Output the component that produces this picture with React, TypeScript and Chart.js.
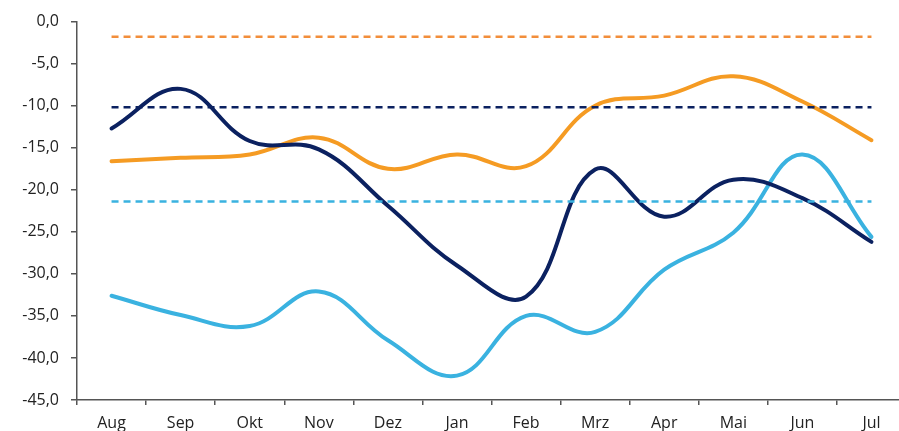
import React, { useEffect, useRef } from "react";
import { Chart, registerables } from "chart.js";

Chart.register(...registerables);

const categories = ["Aug", "Sep", "Okt", "Nov", "Dez", "Jan", "Feb", "Mrz", "Apr", "Mai", "Jun", "Jul"];
const navySeries = [-12.7, -8.0, -14.2, -15.2, -21.9, -29.0, -32.7, -17.6, -23.2, -18.8, -21.0, -26.2];
const orangeSeries = [-16.6, -16.2, -15.8, -13.8, -17.5, -15.8, -17.2, -10.0, -8.8, -6.5, -9.5, -14.1];
const lightBlueSeries = [-32.6, -34.9, -36.2, -32.1, -37.9, -42.1, -35.0, -36.9, -29.5, -25.1, -15.8, -25.6];
const orangeAverage = -1.8;
const navyAverage = -10.2;
const lightBlueAverage = -21.4;

const NAVY = "#0B2160";
const ORANGE = "#F59B23";
const ORANGE_DASH = "#F28E3B";
const LIGHT_BLUE = "#3AB2E0";

const CANVAS_W = 910;
const CANVAS_H = 431;

export default function App() {
  const ref = useRef<HTMLCanvasElement>(null);
  useEffect(() => {
    const ctx = ref.current!;
    const flat = (v: number) => categories.map(() => v);
    const dashed = (label: string, v: number, color: string) => ({
      label,
      data: flat(v),
      borderColor: color,
      borderWidth: 2.5,
      borderDash: [7, 5],
      pointRadius: 0,
      tension: 0,
      fill: false,
    });
    const solid = (label: string, data: number[], color: string) => ({
      label,
      data,
      borderColor: color,
      borderWidth: 4,
      pointRadius: 0,
      tension: 0.4,
      fill: false,
      borderCapStyle: "round" as const,
    });
    const font = { family: "'Open Sans', sans-serif", size: 16 };
    const chart = new Chart(ctx, {
      type: "line",
      data: {
        labels: categories,
        datasets: [
          dashed("orange avg", orangeAverage, ORANGE_DASH),
          dashed("navy avg", navyAverage, NAVY),
          dashed("light blue avg", lightBlueAverage, LIGHT_BLUE),
          solid("navy", navySeries, NAVY),
          solid("orange", orangeSeries, ORANGE),
          solid("light blue", lightBlueSeries, LIGHT_BLUE),
        ],
      },
      options: {
        animation: false,
        responsive: false,
        maintainAspectRatio: false,
        layout: { padding: { top: 17, right: 4, left: 0, bottom: 0 } },
        plugins: { legend: { display: false }, tooltip: { enabled: false } },
        scales: {
          x: {
            offset: true,
            grid: {
              display: true,
              drawOnChartArea: false,
              drawTicks: true,
              tickLength: 5,
              color: "#555",
              lineWidth: 1.5,
              offset: true,
            },
            border: { display: true, color: "#555", width: 1.5 },
            ticks: {
              color: "#222",
              font,
              padding: 9,
              maxRotation: 0,
              autoSkip: false,
            },
            afterFit: (axis: any) => {
              axis.height = 31;
            },
          },
          y: {
            min: -45,
            max: 0,
            afterBuildTicks: (axis: any) => {
              const t = [];
              for (let v = -45; v <= 0; v += 5) t.push({ value: v });
              axis.ticks = t;
            },
            grid: {
              display: true,
              drawOnChartArea: false,
              drawTicks: true,
              tickLength: 6,
              color: "#555",
              lineWidth: 1.5,
            },
            border: { display: true, color: "#555", width: 1.5 },
            ticks: {
              color: "#222",
              font,
              padding: 12,
              callback: (v: any) => Number(v).toFixed(1).replace(".", ","),
            },
            afterFit: (axis: any) => {
              axis.width = 77;
            },
          },
        },
      },
    });
    return () => chart.destroy();
  }, []);
  return (
    <div style={{ position: "fixed", left: 0, top: 0, width: 899, height: 431, overflow: "hidden", background: "#fff" }}>
      <canvas ref={ref} width={CANVAS_W} height={CANVAS_H} style={{ width: CANVAS_W, height: CANVAS_H, display: "block" }} />
    </div>
  );
}
